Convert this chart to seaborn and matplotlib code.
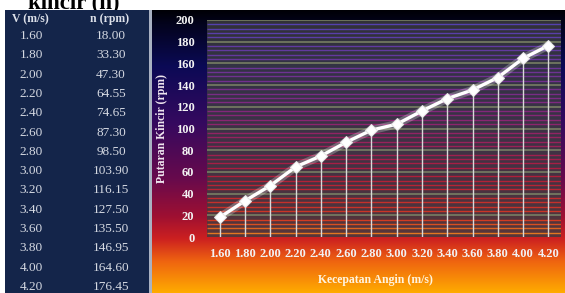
import matplotlib
matplotlib.use("Agg")
import matplotlib.pyplot as plt
from matplotlib.colors import LinearSegmentedColormap
import numpy as np
import pandas as pd
import seaborn as sns

kecepatan = ["1.60", "1.80", "2.00", "2.20", "2.40", "2.60", "2.80",
             "3.00", "3.20", "3.40", "3.60", "3.80", "4.00", "4.20"]
putaran = [18.00, 33.30, 47.30, 64.55, 74.65, 87.30, 98.50,
           103.90, 116.15, 127.50, 135.50, 146.95, 164.60, 176.45]
y_ticks = [0, 20, 40, 60, 80, 100, 120, 140, 160, 180, 200]

df = pd.DataFrame({"kecepatan": kecepatan, "putaran": putaran})
df["pos"] = np.arange(len(df))

sns.set_theme(style="dark")
plt.rcParams["font.family"] = ["Liberation Serif", "DejaVu Serif"]

W, H = 565, 293
fig = plt.figure(figsize=(W / 100, H / 100), dpi=100)
fig.patch.set_facecolor("white")


def box(x0, y0, x1, y1):
    # pixel box (top-left origin) -> figure fraction
    return [x0 / W, 1 - y1 / H, (x1 - x0) / W, (y1 - y0) / H]


# cut-off title above the panels
fig.text(28 / W, 1 - 9 / H, "kincir (n)", fontsize=16.5, fontweight="bold",
         color="black", ha="left", va="baseline")

# table panel on the left
tab = fig.add_axes(box(5, 9.5, 149, 293), zorder=5)
tab.set_facecolor("#14254a")
tab.set_xlim(5, 149)
tab.set_ylim(293, 9.5)
tab.set_xticks([])
tab.set_yticks([])
for s in tab.spines.values():
    s.set_visible(False)
tab.text(30, 19, "V (m/s)", ha="center", va="center", color="#dde1ea",
         fontsize=8.5, fontweight="bold")
tab.text(110, 19, "n (rpm)", ha="center", va="center", color="#dde1ea",
         fontsize=8.5, fontweight="bold")
for i, (v, n) in enumerate(zip(kecepatan, putaran)):
    yy = 36 + i * 19.3
    tab.text(31, yy, v, ha="center", va="center", color="#d5d9e2", fontsize=9.5)
    tab.text(111, yy, f"{n:.2f}", ha="center", va="center", color="#d5d9e2",
             fontsize=9.5)

# separator
sep = fig.add_axes(box(149, 9.5, 151.5, 293), zorder=5)
sep.set_facecolor("#a9b1c2")
sep.set_xticks([])
sep.set_yticks([])
for s in sep.spines.values():
    s.set_visible(False)

# gradient background of the chart panel
bg_cmap = LinearSegmentedColormap.from_list("bg", [
    (0.0, "#000004"), (0.05, "#03031c"), (0.2, "#0b0a55"), (0.4, "#35095f"),
    (0.6, "#680a4c"), (0.73, "#9e1032"), (0.81, "#cc2020"),
    (0.89, "#ef6410"), (1.0, "#ffab00")])
bg = fig.add_axes(box(151.5, 9.5, 565, 293), zorder=0)
bg.imshow(np.linspace(0, 1, 256).reshape(-1, 1), cmap=bg_cmap, aspect="auto")
bg.axis("off")

# main chart
ax = fig.add_axes(box(207, 20, 561, 237), zorder=2)
ax.patch.set_facecolor((0.24, 0.24, 0.25, 0.8))
for s in ax.spines.values():
    s.set_visible(False)

grid_cmap = LinearSegmentedColormap.from_list("grid", [
    (0.0, "#e88a20"), (0.08, "#d23a22"), (0.3, "#ac1c3c"),
    (0.6, "#80287f"), (1.0, "#5242b0")])
minor = np.arange(4, 200, 4)
minor = minor[minor % 20 != 0]
ax.hlines(minor, -0.5, 13.5, colors=grid_cmap(minor / 200), lw=1.0, zorder=1)
ax.hlines(y_ticks[1:], -0.5, 13.5, colors="#7c8466", lw=1.1, zorder=1)

ax.vlines(df["pos"], 0, df["putaran"], colors="#d9d9d9", lw=1, zorder=2)
sns.lineplot(data=df, x="pos", y="putaran", color="white", lw=6, alpha=0.25,
             ax=ax, zorder=3)
sns.lineplot(data=df, x="pos", y="putaran", color="white", lw=2.4, marker="D",
             markersize=6, markeredgecolor="#e6e6e6", ax=ax, zorder=4)

ax.set_xlim(-0.5, 13.5)
ax.set_ylim(0, 200)
ax.set_xticks(df["pos"])
ax.set_xticklabels(kecepatan)
ax.set_yticks(y_ticks)
ax.tick_params(axis="both", length=0, colors="#f2f2f2", labelsize=9)
ax.tick_params(axis="y", pad=9)
ax.tick_params(axis="x", pad=8)
for lab in ax.get_xticklabels() + ax.get_yticklabels():
    lab.set_fontweight("bold")

ax.set_xlabel("Kecepatan Angin (m/s)", color="#fff4e0", fontsize=8.5,
              fontweight="bold")
ax.set_ylabel("Putaran Kincir (rpm)", color="#f0e6f0", fontsize=8.5,
              fontweight="bold")
ax.xaxis.set_label_coords((375 - 207) / 354, -(274 - 237) / 217)
ax.yaxis.set_label_coords(-(207 - 168) / 354, 0.5)
ax.grid(False)

fig.savefig("out.png", dpi=100)
